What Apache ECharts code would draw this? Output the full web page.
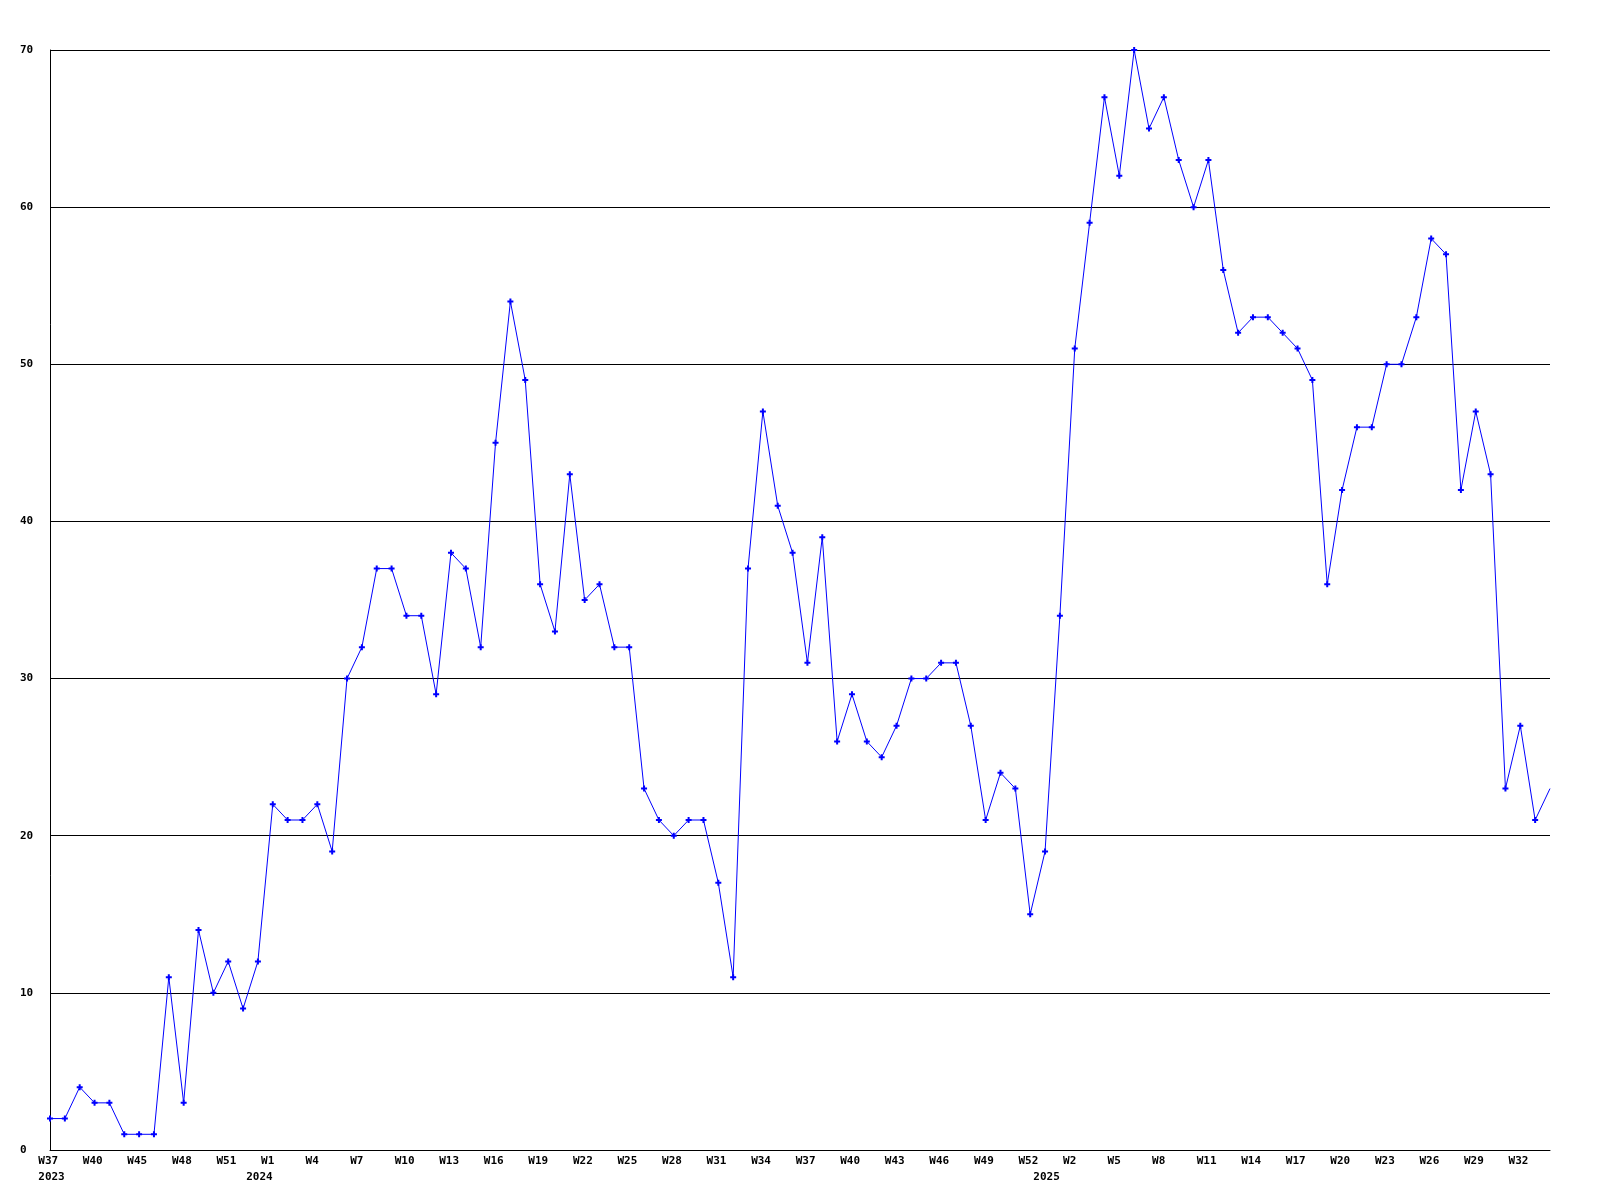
<!DOCTYPE html>
<html>
<head>
<meta charset="utf-8">
<script src="https://cdn.jsdelivr.net/npm/echarts@6/dist/echarts.min.js"></script>
<style>
html,body{margin:0;padding:0;background:#fff;}
#chart{width:1600px;height:1200px;}
</style>
</head>
<body>
<div id="chart"></div>
<script>
// Weekly values, 2023 W37 .. 2025 W33 (102 points)
var values = [
  2, 2, 4, 3, 3, 1, 1, 1, 11, 3, 14, 10, 12, 9, 12,
  22, 21, 21, 22, 19, 30, 32, 37, 37, 34, 34, 29, 38, 37, 32,
  45, 54, 49, 36, 33, 43, 35, 36, 32, 32, 23, 21, 20, 21, 21,
  17, 11, 37, 47, 41, 38, 31, 39, 26, 29, 26, 25, 27, 30, 30,
  31, 31, 27, 21, 24, 23, 15, 19, 34, 51, 59, 67, 62, 70, 65,
  67, 63, 60, 63, 56, 52, 53, 53, 52, 51, 49, 36, 42, 46, 46,
  50, 50, 53, 58, 57, 42, 47, 43, 23, 27, 21, 23
];
// Week tick labels, one every 3 points
var tickLabels = ['W37','W40','W45','W48','W51','W1','W4','W7','W10','W13','W16','W19','W22','W25','W28','W31','W34',
  'W37','W40','W43','W46','W49','W52','W2','W5','W8','W11','W14','W17','W20','W23','W26','W29','W32'];
var tickStep = 3;
// Year labels and the point index they sit under
var yearLabels = ['2023','2024','2025'];
var yearIndex = [0, 14, 67];
var yTicks = [0, 10, 20, 30, 40, 50, 60, 70];

var categories = values.map(function(v, i){ return String(i); });
var seriesData = values.map(function(v, i){
  return i === values.length - 1 ? {value: v, symbol: 'none'} : v;
});
function pad4(s){ while (s.length < 4) s += ' '; return s; }

var font = 'DejaVu Sans Mono';
var chart = echarts.init(document.getElementById('chart'), null, {renderer: 'canvas'});
chart.setOption({
  animation: false,
  backgroundColor: '#ffffff',
  grid: {left: 50, right: 50, top: 50, bottom: 50, containLabel: false},
  xAxis: [{
    type: 'category',
    data: categories,
    boundaryGap: false,
    axisLine: {show: true, lineStyle: {color: '#000', width: 1}},
    axisTick: {show: false},
    splitLine: {show: false},
    axisLabel: {
      interval: tickStep - 1,
      margin: 6,
      color: '#000',
      fontFamily: font,
      fontWeight: 'bold',
      fontSize: 11,
      align: 'center',
      padding: [0, 0, 0, 3],
      formatter: function(v, i){
        var k = Number(v);
        if (k % tickStep !== 0) return '';
        var t = tickLabels[k / tickStep];
        return t ? pad4(t) : '';
      }
    }
  }, {
    type: 'category',
    data: categories,
    boundaryGap: false,
    position: 'bottom',
    gridIndex: 0,
    axisLine: {show: false},
    axisTick: {show: false},
    splitLine: {show: false},
    axisLabel: {
      interval: 0,
      margin: 22,
      color: '#000',
      fontFamily: font,
      fontWeight: 'bold',
      fontSize: 11,
      align: 'center',
      padding: [0, 0, 0, 3],
      formatter: function(v){
        var k = yearIndex.indexOf(Number(v));
        return k >= 0 ? yearLabels[k] : '';
      }
    }
  }],
  yAxis: {
    type: 'value',
    min: yTicks[0],
    max: yTicks[yTicks.length - 1],
    interval: 10,
    axisLine: {show: true, lineStyle: {color: '#000', width: 1}},
    axisTick: {show: false},
    splitLine: {show: true, lineStyle: {color: '#000', width: 1}},
    axisLabel: {
      margin: 30,
      align: 'left',
      color: '#000',
      fontFamily: font,
      fontWeight: 'bold',
      fontSize: 11
    }
  },
  series: [{
    type: 'line',
    xAxisIndex: 0,
    data: seriesData,
    symbol: 'path://M2,0H4V2H6V4H4V6H2V4H0V2H2Z',
    symbolSize: 6,
    showAllSymbol: true,
    lineStyle: {color: '#0000ff', width: 1},
    itemStyle: {color: '#0000ff', borderWidth: 0},
    clip: true
  }]
});
</script>
</body>
</html>
